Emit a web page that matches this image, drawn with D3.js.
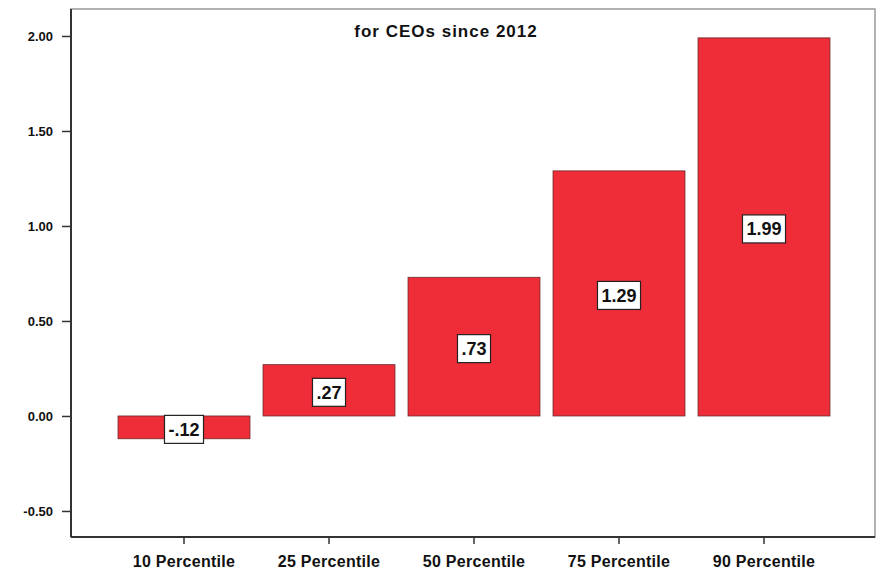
<!DOCTYPE html>
<html>
<head>
<meta charset="utf-8">
<script src="https://cdn.jsdelivr.net/npm/d3@7"></script>
<style>
  body { margin: 0; background: #fff; }
  text { font-family: Arial, "Liberation Sans", sans-serif; }
</style>
</head>
<body>
<div id="chart"></div>
<script>
const categories = ["10 Percentile", "25 Percentile", "50 Percentile", "75 Percentile", "90 Percentile"];
const values = [-0.12, 0.27, 0.73, 1.29, 1.99];
const valueLabels = ["-.12", ".27", ".73", "1.29", "1.99"];
const yTicks = [-0.5, 0, 0.5, 1, 1.5, 2];
const title = "for CEOs since 2012";

const width = 877, height = 574;
const frame = { left: 71, right: 876, top: 9, bottom: 537 };

const svg = d3.select("#chart")
    .append("svg")
    .attr("width", width)
    .attr("height", height);

const y = d3.scaleLinear()
    .domain([-0.637, 2.142])
    .range([frame.bottom, frame.top]);

const x = d3.scaleBand()
    .domain(categories)
    .range([111.5, 836.5])
    .paddingInner(0.09)
    .paddingOuter(0.045);

// frame
svg.append("rect")
    .attr("x", frame.left)
    .attr("y", frame.top)
    .attr("width", frame.right - frame.left - 1)
    .attr("height", frame.bottom - frame.top)
    .attr("fill", "#fff")
    .attr("stroke", "#9a9a9a")
    .attr("stroke-width", 1.5);

// title
svg.append("text")
    .attr("x", 446)
    .attr("y", 37)
    .attr("text-anchor", "middle")
    .attr("font-size", "17px")
    .attr("font-weight", "bold")
    .attr("letter-spacing", "1px")
    .attr("fill", "#111")
    .text(title);

// bars
svg.selectAll("rect.bar")
    .data(values)
    .enter()
    .append("rect")
    .attr("class", "bar")
    .attr("x", (d, i) => x(categories[i]))
    .attr("y", d => y(Math.max(0, d)))
    .attr("width", x.bandwidth())
    .attr("height", d => Math.abs(y(d) - y(0)))
    .attr("fill", "#ef2d38")
    .attr("stroke", "#6a2a2a")
    .attr("stroke-width", 0.8);

// value labels
const labels = svg.selectAll("g.lbl")
    .data(values)
    .enter()
    .append("g")
    .attr("class", "lbl")
    .attr("transform", (d, i) => `translate(${x(categories[i]) + x.bandwidth() / 2}, ${(y(d) + y(0)) / 2 + 2})`);

labels.append("text")
    .attr("text-anchor", "middle")
    .attr("dy", "0.35em")
    .attr("font-size", "18px")
    .attr("font-weight", "bold")
    .attr("fill", "#111")
    .text((d, i) => valueLabels[i])
    .each(function () {
        const bb = this.getBBox();
        d3.select(this.parentNode).insert("rect", "text")
            .attr("x", bb.x - 4)
            .attr("y", -14)
            .attr("width", bb.width + 8)
            .attr("height", 28)
            .attr("fill", "#fff")
            .attr("stroke", "#222")
            .attr("stroke-width", 1.2);
    });

// y axis
const yAxis = svg.append("g")
    .attr("transform", `translate(${frame.left},0)`)
    .call(d3.axisLeft(y).tickValues(yTicks).tickSize(9).tickPadding(9).tickFormat(d3.format(".2f")));
yAxis.select(".domain").attr("stroke", "#333").attr("stroke-width", 2)
    .attr("d", `M0,${frame.top}V${frame.bottom}`);
yAxis.selectAll(".tick line").attr("stroke", "#333").attr("stroke-width", 1.5);
yAxis.selectAll(".tick text")
    .attr("font-size", "13px")
    .attr("font-weight", "bold")
    .attr("fill", "#111")
    .text(d => d < 0 ? "-" + Math.abs(d).toFixed(2) : d.toFixed(2));

// x axis
const xAxis = svg.append("g")
    .attr("transform", `translate(0,${frame.bottom})`)
    .call(d3.axisBottom(x).tickSize(7).tickPadding(12));
xAxis.select(".domain").attr("stroke", "#333").attr("stroke-width", 2)
    .attr("d", `M${frame.left},0H${frame.right - 1}`);
xAxis.selectAll(".tick line").attr("stroke", "#333").attr("stroke-width", 1.5);
xAxis.selectAll(".tick text")
    .attr("font-size", "16px")
    .attr("font-weight", "bold")
    .attr("letter-spacing", "0.3px")
    .attr("fill", "#111");
</script>
</body>
</html>
